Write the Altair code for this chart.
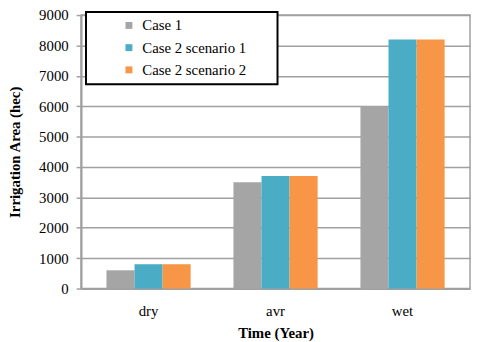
import altair as alt
import pandas as pd

categories = ["dry", "avr", "wet"]
series = ["Case 1", "Case 2 scenario 1", "Case 2 scenario 2"]
case1 = [600, 3500, 6000]
case2s1 = [800, 3700, 8200]
case2s2 = [800, 3700, 8200]
colors = ["#A5A5A5", "#4BACC6", "#F79646"]

rows = []
for i, c in enumerate(categories):
    for s, vals in zip(series, [case1, case2s1, case2s2]):
        rows.append({"cat": c, "series": s, "value": vals[i]})
df = pd.DataFrame(rows)

FONT = "Liberation Serif"
GRAY = "#a0a0a0"

chart = alt.Chart(df).mark_bar().encode(
    x=alt.X("cat:N", sort=categories, title="Time (Year)",
            scale=alt.Scale(paddingInner=0.337),
            axis=alt.Axis(labelAngle=0, ticks=False, domainColor=GRAY, domainWidth=2,
                          labelPadding=15, titlePadding=8)),
    xOffset=alt.XOffset("series:N", sort=series),
    y=alt.Y("value:Q", title="Irrigation Area (hec)",
            scale=alt.Scale(domain=[0, 9000], nice=False),
            axis=alt.Axis(values=list(range(0, 9001, 1000)), format="d", tickSize=5, tickColor=GRAY,
                          tickWidth=1.5, domainColor=GRAY, domainWidth=2, gridColor=GRAY,
                          gridWidth=1.5, labelPadding=8, titlePadding=16)),
    color=alt.Color("series:N", sort=series,
                    scale=alt.Scale(domain=series, range=colors),
                    legend=alt.Legend(title=" ", titleOrient="right", titlePadding=26,
                                      orient="none", legendX=5, legendY=-3,
                                      strokeColor="black", fillColor="white",
                                      padding=6, symbolType="square", symbolSize=49,
                                      symbolStrokeWidth=0, symbolOffset=30, labelOffset=6,
                                      labelFont=FONT, labelFontSize=15,
                                      labelColor="black", labelLimit=400)),
).properties(
    width=394, height=277,
    autosize=alt.AutoSizeParams(type="none"),
    padding={"left": 74, "top": 5, "right": 2, "bottom": 52},
).configure_view(
    stroke=GRAY, strokeWidth=1.5
).configure_axis(
    labelFont=FONT, titleFont=FONT, labelFontSize=15, titleFontSize=15,
    labelColor="black", titleColor="black", titleFontWeight="bold", labelFontWeight="normal"
).configure_legend(
    strokeWidth=2, rowPadding=6.5, labelFont=FONT, labelFontSize=15
)

chart.save("out.html", embed_options={"renderer": "svg", "actions": False})
